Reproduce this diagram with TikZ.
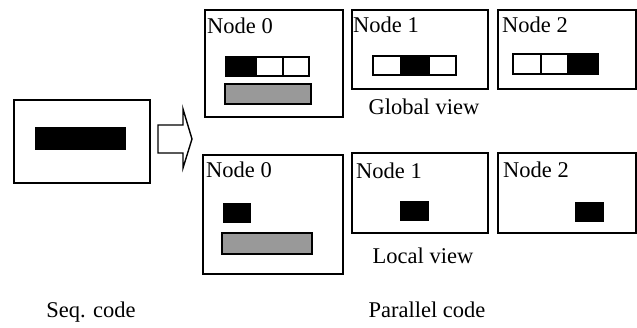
\documentclass[tikz,border=0pt]{standalone}
\usepackage{fontspec}
\setmainfont{Liberation Serif}
\begin{document}
\begin{tikzpicture}[x=1pt,y=-1pt,
  frame/.style={draw,line width=1.9pt,inner sep=0pt,anchor=north west},
  cell/.style={draw,line width=1.9pt},
  solid cell/.style={cell,fill=black},
  grey bar/.style={cell,fill=gray!80!white,draw=black},
  lbl/.style={font=\fontsize{22.5}{26}\selectfont,inner sep=0pt},
  arrowshape/.style={draw,line width=1.4pt,fill=white,line join=miter}]
\useasboundingbox (0,0) rectangle (637,327);

% sequential program
\node[frame,minimum width=136pt,minimum height=83pt] (seq) at (13,99) {};
\fill (35,127) rectangle (126,150);

% transition arrow
\draw[arrowshape] (158,125) -- (183,125) -- (183,109) -- (192,139) -- (183,168) -- (183,153) -- (158,153) -- cycle;

% global view
\node[frame,minimum width=138pt,minimum height=107pt] (g0) at (204,9) {};
\node[frame,minimum width=136pt,minimum height=79pt] (g1) at (351,9) {};
\node[frame,minimum width=138pt,minimum height=79pt] (g2) at (497,9) {};
\node[lbl,anchor=base west] (g0l) at (207,33) {Node 0};
\node[lbl,anchor=base west] (g1l) at (353,32) {Node 1};
\node[lbl,anchor=base west] (g2l) at (502,32) {Node 2};

\draw[solid cell] (226,57) rectangle (256,76);
\draw[cell] (256,57) rectangle (283,76);
\draw[cell] (283,57) rectangle (309,76);
\draw[grey bar] (225,84) rectangle (311,104);

\draw[cell] (373,56) rectangle (401,75);
\draw[solid cell] (401,56) rectangle (429,75);
\draw[cell] (429,56) rectangle (456,75);

\draw[cell] (513,54) rectangle (541,74);
\draw[cell] (541,54) rectangle (568,74);
\draw[solid cell] (568,54) rectangle (598,74);

\node[lbl,anchor=base] (gv) at (424,114) {Global view};

% local view
\node[frame,minimum width=140pt,minimum height=119pt] (l0) at (202,154) {};
\node[frame,minimum width=136pt,minimum height=80pt] (l1) at (351,152) {};
\node[frame,minimum width=138pt,minimum height=80pt] (l2) at (497,152) {};
\node[lbl,anchor=base west] (l0l) at (206,177) {Node 0};
\node[lbl,anchor=base west] (l1l) at (356,178) {Node 1};
\node[lbl,anchor=base west] (l2l) at (503,177) {Node 2};

\fill (223,203) rectangle (251,223);
\draw[grey bar] (222,233) rectangle (312,254);
\fill (400,201) rectangle (429,221);
\fill (575,202) rectangle (604,222);

\node[lbl,anchor=base] (lv) at (423,263) {Local view};

% captions
\node[lbl,anchor=base] (sc) at (91,317) {Seq. code};
\node[lbl,anchor=base] (pc) at (427,317) {Parallel code};
\end{tikzpicture}
\end{document}
